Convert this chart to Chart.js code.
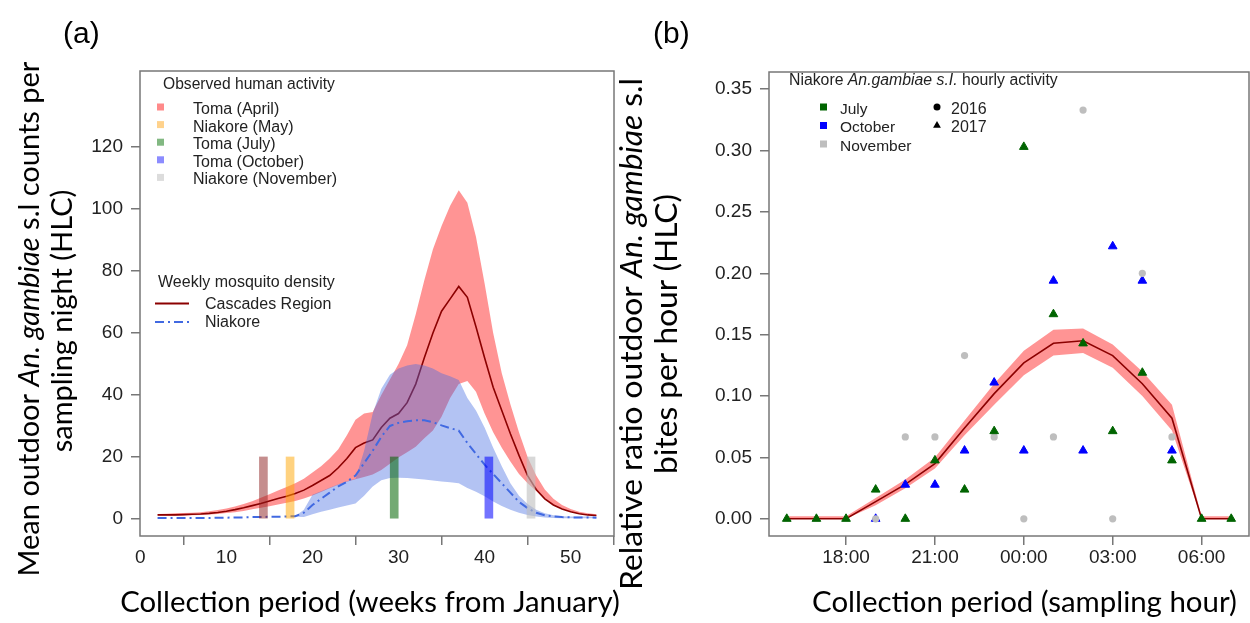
<!DOCTYPE html>
<html><head><meta charset="utf-8">
<script src="https://cdn.jsdelivr.net/npm/chart.js@4.4.1/dist/chart.umd.min.js"></script>
<style>
html,body{margin:0;padding:0;background:#fff;}
#wrap{position:relative;width:1250px;height:623px;overflow:hidden;background:#fff;}
#ca{position:absolute;left:0;top:0;}
#cb{position:absolute;left:600px;top:0;}
</style></head><body>
<div id="wrap"><canvas id="ca" width="625" height="623"></canvas><canvas id="cb" width="650" height="623"></canvas></div>
<script>
// ---------- Panel (a) data ----------
const weeks = [2,3,4,5,6,7,8,9,10,11,12,13,14,15,16,17,18,19,20,21,22,23,24,25,26,27,28,29,30,31,32,33,34,35,36,37,38,39,40,41,42,43,44,45,46,47,48,49,50,51,52,53];
const cascadesMean = [1.3,1.3,1.3,1.4,1.5,1.6,1.8,2.1,2.5,3.0, 3.6,4.3,5.0,5.8,6.6,7.3,8.2,9.3,10.8,12.4, 14.0,16.5,19.5,23.0,24.5,25.5,29.5,32.5,34.0,37.5, 43.5,52.0,60.0,67.0,71.0,75.0,71.5,62.0,52.0,42.5, 35.0,27.5,20.5,14.0,9.5,6.5,4.5,3.2,2.3,1.7, 1.3,1.1];
const cascadesUpper = [1.6,1.7,1.8,1.9,2.0,2.2,2.5,2.9,3.4,4.0, 4.8,5.7,6.8,8.0,9.2,10.3,11.5,13.0,15.0,17.0, 19.5,22.5,27.0,32.0,34.0,34.5,40.0,45.0,50.0,56.0, 66.0,77.0,87.0,94.5,101.0,106.0,102.0,91.0,76.0,60.0, 47.0,37.0,28.0,20.0,14.0,9.5,6.5,4.5,3.2,2.3, 1.8,1.5];
const cascadesLower = [1.0,1.0,1.0,1.1,1.2,1.3,1.4,1.6,1.9,2.2, 2.6,3.1,3.6,4.1,4.7,5.2,5.8,6.6,7.6,8.7, 9.9,11.0,12.0,12.8,13.5,14.3,15.8,17.8,19.8,21.5, 23.3,26.0,28.5,33.0,39.0,43.5,44.5,41.0,34.0,28.0, 23.0,18.5,14.5,11.5,9.0,6.5,4.5,3.2,2.3,1.6, 1.2,0.9];
const niakoreMean = [0.3,0.3,0.3,0.3,0.3,0.3,0.3,0.4,0.4,0.5, 0.5,0.6,0.6,0.7,0.7,0.8,0.9,2.0,4.5,6.5, 8.5,10.5,12.0,14.0,18.0,22.0,26.5,30.0,31.0,31.5, 31.8,31.8,31.2,30.2,29.3,28.5,24.5,21.0,17.5,14.5, 11.5,8.5,5.5,3.5,2.0,1.2,0.8,0.6,0.5,0.5, 0.5,0.4];
const niakoreUpper = [0.3,0.3,0.3,0.3,0.3,0.3,0.3,0.4,0.4,0.5, 0.5,0.6,0.6,0.7,0.7,0.8,0.9,3.0,7.8,8.9, 10.1,11.2,12.2,13.0,22.0,34.0,42.0,46.5,48.5,49.5, 50.0,49.5,48.5,47.0,46.0,44.8,39.0,35.0,29.5,23.0, 17.0,11.5,7.5,4.8,3.0,1.8,1.2,0.9,0.8,0.8, 0.8,0.7];
const niakoreLower = [0.3,0.3,0.3,0.3,0.3,0.3,0.3,0.4,0.4,0.5, 0.5,0.6,0.6,0.7,0.7,0.8,0.7,0.6,1.5,2.3, 3.0,3.7,4.3,5.0,7.5,10.5,12.5,13.2,13.3,13.2, 13.0,12.7,12.4,12.1,11.8,11.5,10.0,8.8,7.3,5.6, 4.2,3.0,2.0,1.3,0.8,0.5,0.3,0.2,0.2,0.2, 0.2,0.2];
const activityLabels = ['Toma (April)','Niakore (May)','Toma (July)','Toma (October)','Niakore (November)'];
const activityWeeks = [14.3, 17.4, 29.5, 40.5, 45.4];
const activityTop = [20, 20, 20, 20, 20];
const densityLabels = ['Cascades Region','Niakore'];
const xTicksA = [0,10,20,30,40,50];
const yTicksA = [0,20,40,60,80,100,120];

// ---------- Panel (b) data ----------
const hours = [16,17,18,19,20,21,22,23,24,25,26,27,28,29,30,31];
const fitMean  = [0,0,0,0.014,0.028,0.045,0.074,0.102,0.127,0.143,0.145,0.133,0.110,0.082,0,0];
const fitUpper = [0.002,0.002,0.002,0.017,0.032,0.050,0.080,0.110,0.137,0.154,0.155,0.142,0.120,0.093,0.002,0.002];
const fitLower = [0,0,0,0.011,0.025,0.041,0.068,0.093,0.117,0.133,0.135,0.123,0.100,0.072,0,0];
const julyRatio     = [0,0,0,0.0238,0,0.0476,0.0238,0.0714,0.303,0.1667,0.1429,0.0714,0.119,0.0476,0,0];
const octoberRatio  = [null,null,null,0,0.0278,0.0278,0.0556,0.111,0.0556,0.194,0.0556,0.222,0.194,0.0556,null,null];
const novemberRatio = [null,null,null,0,0.0667,0.0667,0.133,0.0667,0,0.0667,0.333,0,0.2,0.0667,null,null];
const monthLabels = ['July','October','November'];
const yearLabels = ['2016','2017'];
const hourTickValues = [18,21,24,27,30];
const hourTickLabels = ['18:00','21:00','00:00','03:00','06:00'];
const yTicksB = [0,0.05,0.10,0.15,0.20,0.25,0.30,0.35];

// ---------- styles ----------
const TITLE_FAM = 'Lato, "Open Sans", sans-serif';
const TICK_FAM = '"Liberation Sans", Arial, sans-serif';
const BOX = '#777';
const activityBarColors = ['rgba(140,30,30,0.5)','rgba(255,165,0,0.5)','rgba(0,100,0,0.55)','rgba(0,0,255,0.55)','rgba(190,190,190,0.6)'];
const activityKeyColors = ['#ff8a8a','#ffd28c','#82b882','#8c8cff','#dcdcdc'];
const monthColors = ['#006400','#0000ff','#bebebe'];

const pts = (xs, ys) => xs.map((x, i) => ({x: x, y: ys[i]}));

function segWidth(ctx, segs, size, fam) {
  let w = 0;
  for (const s of segs) { ctx.font = (s.i ? 'italic ' : '') + size + 'px ' + fam; w += ctx.measureText(s.t).width; }
  return w;
}
function fitSize(ctx, segs, target, fam) { return 20 * target / segWidth(ctx, segs, 20, fam); }
function drawSegs(ctx, segs, size, fam, x, y) {
  let cx = x;
  for (const s of segs) {
    ctx.font = (s.i ? 'italic ' : '') + size + 'px ' + fam;
    ctx.fillText(s.t, cx, y);
    cx += ctx.measureText(s.t).width;
  }
}
function drawCentered(ctx, segs, size, fam, cx, cy, rot) {
  ctx.save();
  ctx.translate(cx, cy);
  if (rot) ctx.rotate(-Math.PI / 2);
  ctx.textBaseline = 'middle'; ctx.textAlign = 'left';
  const w = segWidth(ctx, segs, size, fam);
  drawSegs(ctx, segs, size, fam, -w / 2, 0);
  ctx.restore();
}
function drawLeft(ctx, segs, size, fam, x, cy) {
  ctx.save(); ctx.textBaseline = 'middle'; ctx.textAlign = 'left';
  drawSegs(ctx, segs, size, fam, x, cy); ctx.restore();
}
function drawBox(chart) {
  const a = chart.chartArea, ctx = chart.ctx;
  ctx.save(); ctx.strokeStyle = BOX; ctx.lineWidth = 1.5;
  ctx.strokeRect(a.left, a.top, a.right - a.left, a.bottom - a.top);
  ctx.restore();
}

function axisOpts(min, max, tickVals, fit, cb, pad) {
  return {
    type: 'linear', min: min, max: max, offset: false,
    afterBuildTicks: s => { s.ticks = tickVals.map(v => ({value: v})); },
    afterFit: s => { fit(s); s.paddingLeft = 0; s.paddingRight = 0; s.paddingTop = 0; s.paddingBottom = 0; },
    grid: {drawOnChartArea: false, drawTicks: true, tickLength: 9, color: BOX, lineWidth: 1.5},
    border: {display: false},
    ticks: {font: {family: TICK_FAM, size: 19}, color: '#222', padding: pad, maxRotation: 0, autoSkip: false, callback: cb}
  };
}

const overlayA = {
  id: 'overlayA',
  afterDraw(chart) {
    const ctx = chart.ctx;
    drawBox(chart);
    ctx.save();
    ctx.fillStyle = '#000';
    ctx.font = '30px ' + TICK_FAM; ctx.textBaseline = 'middle'; ctx.textAlign = 'left';
    ctx.fillText('(a)', 63, 35);
    const y1 = [{t: 'Mean outdoor '}, {t: 'An. gambiae', i: true}, {t: ' s.l counts per'}];
    const sz = fitSize(ctx, y1, 515, TITLE_FAM);
    drawCentered(ctx, y1, sz, TITLE_FAM, 30, 319, true);
    drawCentered(ctx, [{t: 'sampling night (HLC)'}], sz, TITLE_FAM, 63, 321, true);
    const xt = [{t: 'Collection period (weeks from January)'}];
    drawCentered(ctx, xt, fitSize(ctx, xt, 500, TITLE_FAM), TITLE_FAM, 370, 603, false);
    // legend: observed human activity
    ctx.fillStyle = '#222';
    const h1 = [{t: 'Observed human activity'}];
    drawLeft(ctx, h1, fitSize(ctx, h1, 172, TICK_FAM), TICK_FAM, 163, 85);
    activityLabels.forEach((lab, i) => {
      const y = 107 + i * 17.6;
      ctx.fillStyle = activityKeyColors[i];
      ctx.fillRect(157, y - 3.5, 7, 7);
      ctx.fillStyle = '#222';
      drawLeft(ctx, [{t: lab}], 16, TICK_FAM, 193, y + 2.5);
    });
    const h2 = [{t: 'Weekly mosquito density'}];
    drawLeft(ctx, h2, fitSize(ctx, h2, 177, TICK_FAM), TICK_FAM, 158, 283);
    ctx.lineWidth = 2;
    ctx.strokeStyle = '#8b0000'; ctx.beginPath(); ctx.moveTo(155, 303.5); ctx.lineTo(189, 303.5); ctx.stroke();
    ctx.strokeStyle = '#4169e1'; ctx.setLineDash([9, 4, 2, 4]); ctx.beginPath(); ctx.moveTo(155, 322); ctx.lineTo(189, 322); ctx.stroke();
    ctx.setLineDash([]);
    ctx.fillStyle = '#222';
    drawLeft(ctx, [{t: densityLabels[0]}], 16, TICK_FAM, 205, 305);
    drawLeft(ctx, [{t: densityLabels[1]}], 16, TICK_FAM, 205, 323);
    ctx.restore();
  }
};

const overlayB = {
  id: 'overlayB',
  afterDraw(chart) {
    const ctx = chart.ctx;
    drawBox(chart);
    ctx.save();
    ctx.fillStyle = '#000';
    ctx.font = '30px ' + TICK_FAM; ctx.textBaseline = 'middle'; ctx.textAlign = 'left';
    ctx.fillText('(b)', 53, 35);
    const y1 = [{t: 'Relative ratio outdoor '}, {t: 'An. gambiae', i: true}, {t: ' s.l'}];
    const sz = fitSize(ctx, y1, 512, TITLE_FAM);
    drawCentered(ctx, y1, sz, TITLE_FAM, 32, 334, true);
    drawCentered(ctx, [{t: 'bites per hour (HLC)'}], sz, TITLE_FAM, 67, 334, true);
    const xt = [{t: 'Collection period (sampling hour)'}];
    drawCentered(ctx, xt, fitSize(ctx, xt, 425, TITLE_FAM), TITLE_FAM, 424.5, 603, false);
    // legend
    ctx.fillStyle = '#222';
    const h = [{t: 'Niakore '}, {t: 'An.gambiae s.I.', i: true}, {t: ' hourly activity'}];
    drawLeft(ctx, h, fitSize(ctx, h, 269, TICK_FAM), TICK_FAM, 189, 81);
    monthLabels.forEach((lab, i) => {
      const y = 107 + i * 18.5;
      ctx.fillStyle = monthColors[i];
      ctx.fillRect(220, y - 3.5, 7, 7);
      ctx.fillStyle = '#222';
      drawLeft(ctx, [{t: lab}], 15.5, TICK_FAM, 240, y + 2.5);
    });
    ctx.fillStyle = '#000';
    ctx.beginPath(); ctx.arc(337, 107, 3.5, 0, Math.PI * 2); ctx.fill();
    const ty = 125.5, r = 4.5;
    ctx.beginPath(); ctx.moveTo(337, ty - r); ctx.lineTo(337 + r * 0.866, ty + r / 2); ctx.lineTo(337 - r * 0.866, ty + r / 2); ctx.closePath(); ctx.fill();
    ctx.fillStyle = '#222';
    drawLeft(ctx, [{t: yearLabels[0]}], 16, TICK_FAM, 351, 109.5);
    drawLeft(ctx, [{t: yearLabels[1]}], 16, TICK_FAM, 351, 128);
    ctx.restore();
  }
};

const NONE = 'rgba(0,0,0,0)';
const commonPlugins = {legend: {display: false}, tooltip: {enabled: false}, filler: {drawTime: 'beforeDatasetDraw'}};

new Chart(document.getElementById('ca'), {
  type: 'line',
  data: {datasets: [
    {type: 'bar', label: 'Observed human activity', data: pts(activityWeeks, activityTop), backgroundColor: activityBarColors, borderWidth: 0, barThickness: 8, grouped: false, order: 0},
    {label: 'Niakore', data: pts(weeks, niakoreMean), borderColor: '#4169e1', borderWidth: 2, borderDash: [9, 4, 2, 4], pointRadius: 0, fill: false, order: 1},
    {label: 'Niakore upper', data: pts(weeks, niakoreUpper), borderColor: NONE, borderWidth: 0, pointRadius: 0, backgroundColor: 'rgba(65,105,225,0.4)', fill: '+1', order: 2},
    {label: 'Niakore lower', data: pts(weeks, niakoreLower), borderColor: NONE, borderWidth: 0, pointRadius: 0, fill: false, order: 3},
    {label: 'Cascades Region', data: pts(weeks, cascadesMean), borderColor: '#8b0000', borderWidth: 1.6, pointRadius: 0, fill: false, order: 4},
    {label: 'Cascades upper', data: pts(weeks, cascadesUpper), borderColor: NONE, borderWidth: 0, pointRadius: 0, backgroundColor: 'rgba(255,0,0,0.42)', fill: '+1', order: 5},
    {label: 'Cascades lower', data: pts(weeks, cascadesLower), borderColor: NONE, borderWidth: 0, pointRadius: 0, fill: false, order: 6}
  ]},
  options: {
    responsive: false, animation: false, events: [],
    layout: {autoPadding: false, padding: {top: 71, right: 11, bottom: 0, left: 0}},
    plugins: commonPlugins,
    scales: {
      x: axisOpts(-0.04, 55.04, xTicksA, s => { s.height = 87; }, v => String(v), 1),
      y: axisOpts(-5.5, 144.5, yTicksA, s => { s.width = 140; }, v => String(v), 8)
    }
  },
  plugins: [overlayA]
});

new Chart(document.getElementById('cb'), {
  type: 'line',
  data: {datasets: [
    {label: 'July', data: pts(hours, julyRatio), showLine: false, pointStyle: 'triangle', pointRadius: 5, backgroundColor: monthColors[0], borderColor: monthColors[0], borderWidth: 1, order: 0},
    {label: 'November', data: pts(hours, novemberRatio), showLine: false, pointStyle: 'circle', pointRadius: 3.6, backgroundColor: monthColors[2], borderColor: monthColors[2], borderWidth: 0, order: 1},
    {label: 'October', data: pts(hours, octoberRatio), showLine: false, pointStyle: 'triangle', pointRadius: 5, backgroundColor: monthColors[1], borderColor: monthColors[1], borderWidth: 1, order: 2},
    {label: 'Fit', data: pts(hours, fitMean), borderColor: '#8b0000', borderWidth: 1.6, pointRadius: 0, fill: false, order: 3},
    {label: 'Fit upper', data: pts(hours, fitUpper), borderColor: NONE, borderWidth: 0, pointRadius: 0, backgroundColor: 'rgba(255,0,0,0.42)', fill: '+1', order: 4},
    {label: 'Fit lower', data: pts(hours, fitLower), borderColor: NONE, borderWidth: 0, pointRadius: 0, fill: false, order: 5}
  ]},
  options: {
    responsive: false, animation: false, events: [],
    layout: {autoPadding: false, padding: {top: 72, right: 1, bottom: 0, left: 0}},
    plugins: commonPlugins,
    scales: {
      x: axisOpts(15.4, 31.6, hourTickValues, s => { s.height = 87; }, v => hourTickLabels[hourTickValues.indexOf(v)], 1),
      y: axisOpts(-0.014, 0.364, yTicksB, s => { s.width = 169; }, v => v.toFixed(2), 8)
    }
  },
  plugins: [overlayB]
});
</script>
</body></html>
